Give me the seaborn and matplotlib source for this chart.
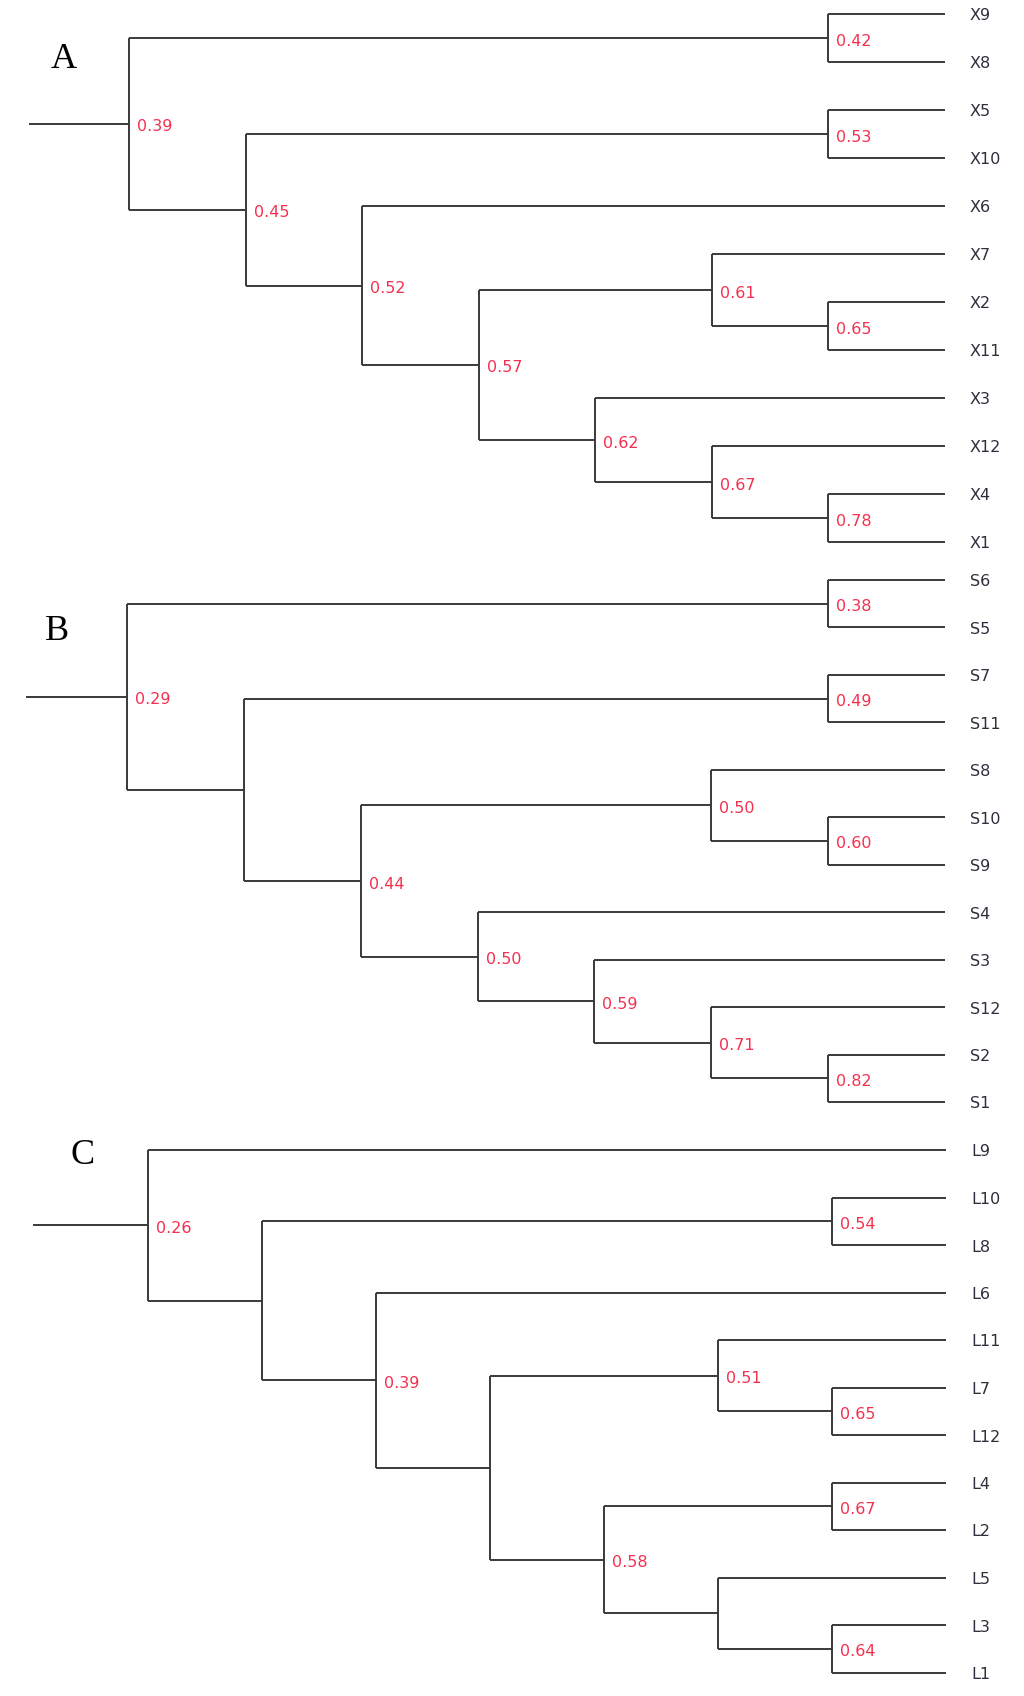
import matplotlib.pyplot as plt
import seaborn as sns

# trees as nested (left, right, similarity); None = node without a label
tree_a = (("X9", "X8", 0.42),
          (("X5", "X10", 0.53),
           ("X6",
            (("X7", ("X2", "X11", 0.65), 0.61),
             ("X3", ("X12", ("X4", "X1", 0.78), 0.67), 0.62),
             0.57),
            0.52),
           0.45),
          0.39)

tree_b = (("S6", "S5", 0.38),
          (("S7", "S11", 0.49),
           (("S8", ("S10", "S9", 0.60), 0.50),
            ("S4", ("S3", ("S12", ("S2", "S1", 0.82), 0.71), 0.59), 0.50),
            0.44),
           None),
          0.29)

tree_c = ("L9",
          (("L10", "L8", 0.54),
           ("L6",
            (("L11", ("L7", "L12", 0.65), 0.51),
             (("L4", "L2", 0.67), ("L5", ("L3", "L1", 0.64), None), 0.58),
             None),
            0.39),
           None),
          0.26)

panel_names = ["A", "B", "C"]
trees = [tree_a, tree_b, tree_c]

# layout per panel (pixels): stub start, root x, leaf x, first leaf y, leaf spacing, letter pos
layout = [
    dict(stub=29, root=129, leaf=945, top=14, gap=48.0, letter=(64, 60)),
    dict(stub=26, root=127, leaf=945, top=580, gap=47.45, letter=(57, 632)),
    dict(stub=33, root=148, leaf=946, top=1150, gap=47.5, letter=(83, 1155)),
]

LINE = "#3a3a3a"
RED = "#f5304f"
LEAF_COL = "#2e2e3c"


def height(node):
    if isinstance(node, str):
        return 0
    return 1 + max(height(node[0]), height(node[1]))


def draw(ax, node, lay, step, counter):
    if isinstance(node, str):
        y = lay["top"] + counter[0] * lay["gap"]
        counter[0] += 1
        ax.text(lay["leaf"] + 25, y + 2, node, fontsize=11.5, color=LEAF_COL,
                ha="left", va="center", family="DejaVu Sans")
        return lay["leaf"], y
    left, right, val = node
    xl, yl = draw(ax, left, lay, step, counter)
    xr, yr = draw(ax, right, lay, step, counter)
    x = lay["leaf"] - height(node) * step
    ax.plot([x, xl], [yl, yl], color=LINE, lw=1.4, solid_capstyle="butt")
    ax.plot([x, xr], [yr, yr], color=LINE, lw=1.4, solid_capstyle="butt")
    ax.plot([x, x], [yl, yr], color=LINE, lw=1.4, solid_capstyle="butt")
    ym = (yl + yr) / 2
    if val is not None:
        ax.text(x + 8, ym + 3, f"{val:.2f}", fontsize=11.5, color=RED,
                ha="left", va="center", family="DejaVu Sans")
    return x, ym


sns.set_style("white")
fig = plt.figure(figsize=(10.24, 16.96), dpi=100)
ax = fig.add_axes([0, 0, 1, 1])
ax.set_xlim(0, 1024)
ax.set_ylim(1696, 0)
ax.axis("off")

for name, tree, lay in zip(panel_names, trees, layout):
    step = (lay["leaf"] - lay["root"]) / height(tree)
    rx, ry = draw(ax, tree, lay, step, [0])
    ax.plot([lay["stub"], rx], [ry, ry], color=LINE, lw=1.4, solid_capstyle="butt")
    ax.text(lay["letter"][0], lay["letter"][1], name, fontsize=26,
            family="Liberation Serif", ha="center", va="center", color="black")

fig.savefig("out.png", dpi=100, facecolor="white")
